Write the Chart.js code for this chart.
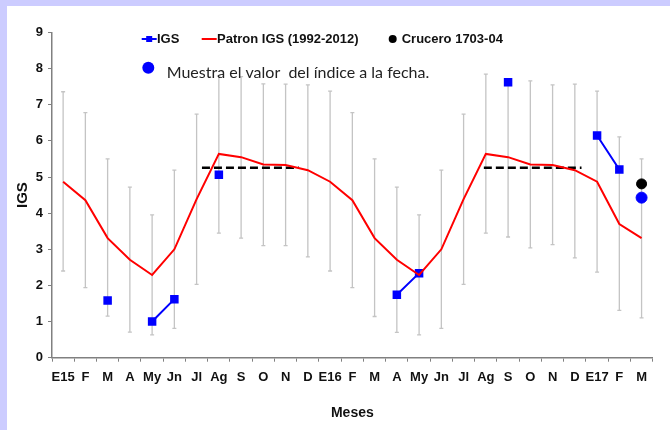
<!DOCTYPE html>
<html><head><meta charset="utf-8">
<script src="https://cdn.jsdelivr.net/npm/chart.js@4"></script>
<style>
html,body{margin:0;padding:0;background:#fff;}
#outer{position:relative;width:670px;height:430px;background:#ccccff;overflow:hidden;}
#inner{position:absolute;left:7px;top:6px;width:663px;height:424px;background:#fff;}
canvas{display:block;}
</style></head><body>
<div id="outer"><div id="inner"><canvas id="c" width="663" height="424"></canvas></div></div>
<script>
// ---- Data ----
const meses = ['E15','F','M','A','My','Jn','Jl','Ag','S','O','N','D',
               'E16','F','M','A','My','Jn','Jl','Ag','S','O','N','D',
               'E17','F','M'];
const patron = [4.87,4.36,3.31,2.71,2.29,3.00,4.39,5.64,5.55,5.35,5.33,5.19,
                4.87,4.36,3.31,2.71,2.29,3.00,4.39,5.64,5.55,5.35,5.33,5.19,
                4.87,3.70,3.31];
const maximo = [7.36,6.78,5.50,4.72,3.95,5.19,6.74,7.80,7.78,7.58,7.57,7.55,
                7.38,6.78,5.50,4.72,3.95,5.19,6.74,7.85,7.65,7.66,7.55,7.57,
                7.38,6.11,5.50];
const minimo = [2.40,1.94,1.15,0.71,0.63,0.81,2.03,3.45,3.31,3.10,3.10,2.79,
                2.40,1.94,1.14,0.70,0.63,0.81,2.03,3.45,3.34,3.04,3.13,2.76,
                2.37,1.31,1.10];
const igs = [null,null,1.58,null,1.00,1.62,null,5.06,null,null,null,null,
             null,null,null,1.74,2.34,null,null,null,7.62,null,null,null,
             6.15,5.21,null];
const crucero = [null,null,null,null,null,null,null,null,null,null,null,null,
                 null,null,null,null,null,null,null,null,null,null,null,null,
                 null,null,4.81];
const muestra = [null,null,null,null,null,null,null,null,null,null,null,null,
                 null,null,null,null,null,null,null,null,null,null,null,null,
                 null,null,4.43];
const umbralValor = 5.26;
const umbralTramo1 = [6.74, 11.1];   // position in months along the axis
const umbralTramo2 = [19.41, 23.8];

Chart.defaults.font.family = '"Liberation Sans", Arial, sans-serif';

const barrasError = {
  id: 'barrasError',
  beforeDatasetsDraw(chart) {
    const {ctx, scales: {x, y}} = chart;
    ctx.save();
    ctx.strokeStyle = '#c4c4c4';
    ctx.lineWidth = 1.3;
    maximo.forEach((hi, i) => {
      const lo = minimo[i];
      const px = x.getPixelForValue(i);
      const yt = y.getPixelForValue(hi), yb = y.getPixelForValue(lo);
      ctx.beginPath();
      ctx.moveTo(px, yt); ctx.lineTo(px, yb);
      ctx.moveTo(px - 2, yt); ctx.lineTo(px + 2, yt);
      ctx.moveTo(px - 2, yb); ctx.lineTo(px + 2, yb);
      ctx.stroke();
    });
    ctx.restore();
  }
};

const leyenda = {
  id: 'leyenda',
  afterDraw(chart) {
    const ctx = chart.ctx;
    const ds = chart.data.datasets;
    ctx.save();
    ctx.font = 'bold 13px "Liberation Sans", Arial, sans-serif';
    ctx.fillStyle = '#111';
    ctx.textBaseline = 'middle';
    ctx.textAlign = 'left';
    const yR = 33;
    // IGS
    ctx.strokeStyle = '#0000ff'; ctx.lineWidth = 2;
    ctx.beginPath(); ctx.moveTo(134.7, yR); ctx.lineTo(149.7, yR); ctx.stroke();
    ctx.fillStyle = '#0000ff'; ctx.fillRect(139.2, yR - 3, 6, 6);
    ctx.fillStyle = '#111'; ctx.fillText(ds[1].label, 150, yR);
    // Patron
    ctx.strokeStyle = '#ff0000';
    ctx.beginPath(); ctx.moveTo(194.7, yR); ctx.lineTo(209.7, yR); ctx.stroke();
    ctx.fillText(ds[0].label, 210, yR);
    // Crucero
    ctx.fillStyle = '#000';
    ctx.beginPath(); ctx.arc(385.7, yR, 4, 0, Math.PI * 2); ctx.fill();
    ctx.fillStyle = '#111';
    ctx.fillText(ds[4].label, 394.7, yR);
    // Muestra
    ctx.fillStyle = '#0000ff';
    ctx.beginPath(); ctx.arc(141.3, 61.7, 6, 0, Math.PI * 2); ctx.fill();
    ctx.font = '16px Lato, "Open Sans", sans-serif';
    ctx.fillStyle = '#222';
    ctx.textBaseline = 'alphabetic';
    ctx.fillText(ds[5].label, 159.7, 71.7);
    ctx.restore();
  }
};

new Chart(document.getElementById('c'), {
  type: 'line',
  data: {
    labels: meses,
    datasets: [
      {label: 'Patron IGS (1992-2012)', data: patron, borderColor: '#ff0000', borderWidth: 2,
       pointRadius: 0, tension: 0},
      {label: 'IGS', data: igs, borderColor: '#0000ff', backgroundColor: '#0000ff', borderWidth: 2,
       pointStyle: 'rect', pointRadius: 4.6, spanGaps: false},
      {label: 'umbral1', xAxisID: 'x2', data: umbralTramo1.map(v => ({x: v, y: umbralValor})),
       borderColor: '#000', borderWidth: 2.5, borderDash: [8, 4], pointRadius: 0},
      {label: 'umbral2', xAxisID: 'x2', data: umbralTramo2.map(v => ({x: v, y: umbralValor})),
       borderColor: '#000', borderWidth: 2.5, borderDash: [8, 4], pointRadius: 0},
      {label: 'Crucero 1703-04', data: crucero, showLine: false, pointRadius: 5,
       backgroundColor: '#000', borderColor: '#000'},
      {label: 'Muestra el valor  del índice a la fecha.', data: muestra, showLine: false, pointRadius: 5.5,
       backgroundColor: '#0000ff', borderColor: '#0000ff'}
    ]
  },
  options: {
    responsive: false,
    animation: false,
    layout: {padding: {top: 26.5, right: 17.3, left: 0, bottom: 4.6}},
    plugins: {legend: {display: false}, tooltip: {enabled: false}},
    scales: {
      x: {
        type: 'category', offset: true,
        grid: {offset: true, drawOnChartArea: false, drawTicks: true, tickLength: 4, color: '#808080'},
        border: {color: '#808080', width: 1.5},
        ticks: {color: '#111', font: {size: 13, weight: 'bold'}, padding: 8, maxRotation: 0, autoSkip: false},
        title: {display: true, text: 'Meses', color: '#111', font: {size: 14, weight: 'bold'}, padding: {top: 0, bottom: 4}},
        afterFit(s) { s.height = 67.7; }
      },
      x2: {type: 'linear', min: 0, max: 27, display: false},
      y: {
        min: 0, max: 9,
        ticks: {stepSize: 1, color: '#111', font: {size: 13, weight: 'bold'}, padding: 5},
        grid: {drawOnChartArea: false, tickLength: 4, color: '#808080'},
        border: {color: '#808080', width: 1.5},
        title: {display: true, text: 'IGS', color: '#111', font: {size: 15, weight: 'bold'}, padding: {top: 6.5, bottom: 0}},
        afterFit(s) { s.width = 45; }
      }
    }
  },
  plugins: [barrasError, leyenda]
});
</script>
</body></html>
